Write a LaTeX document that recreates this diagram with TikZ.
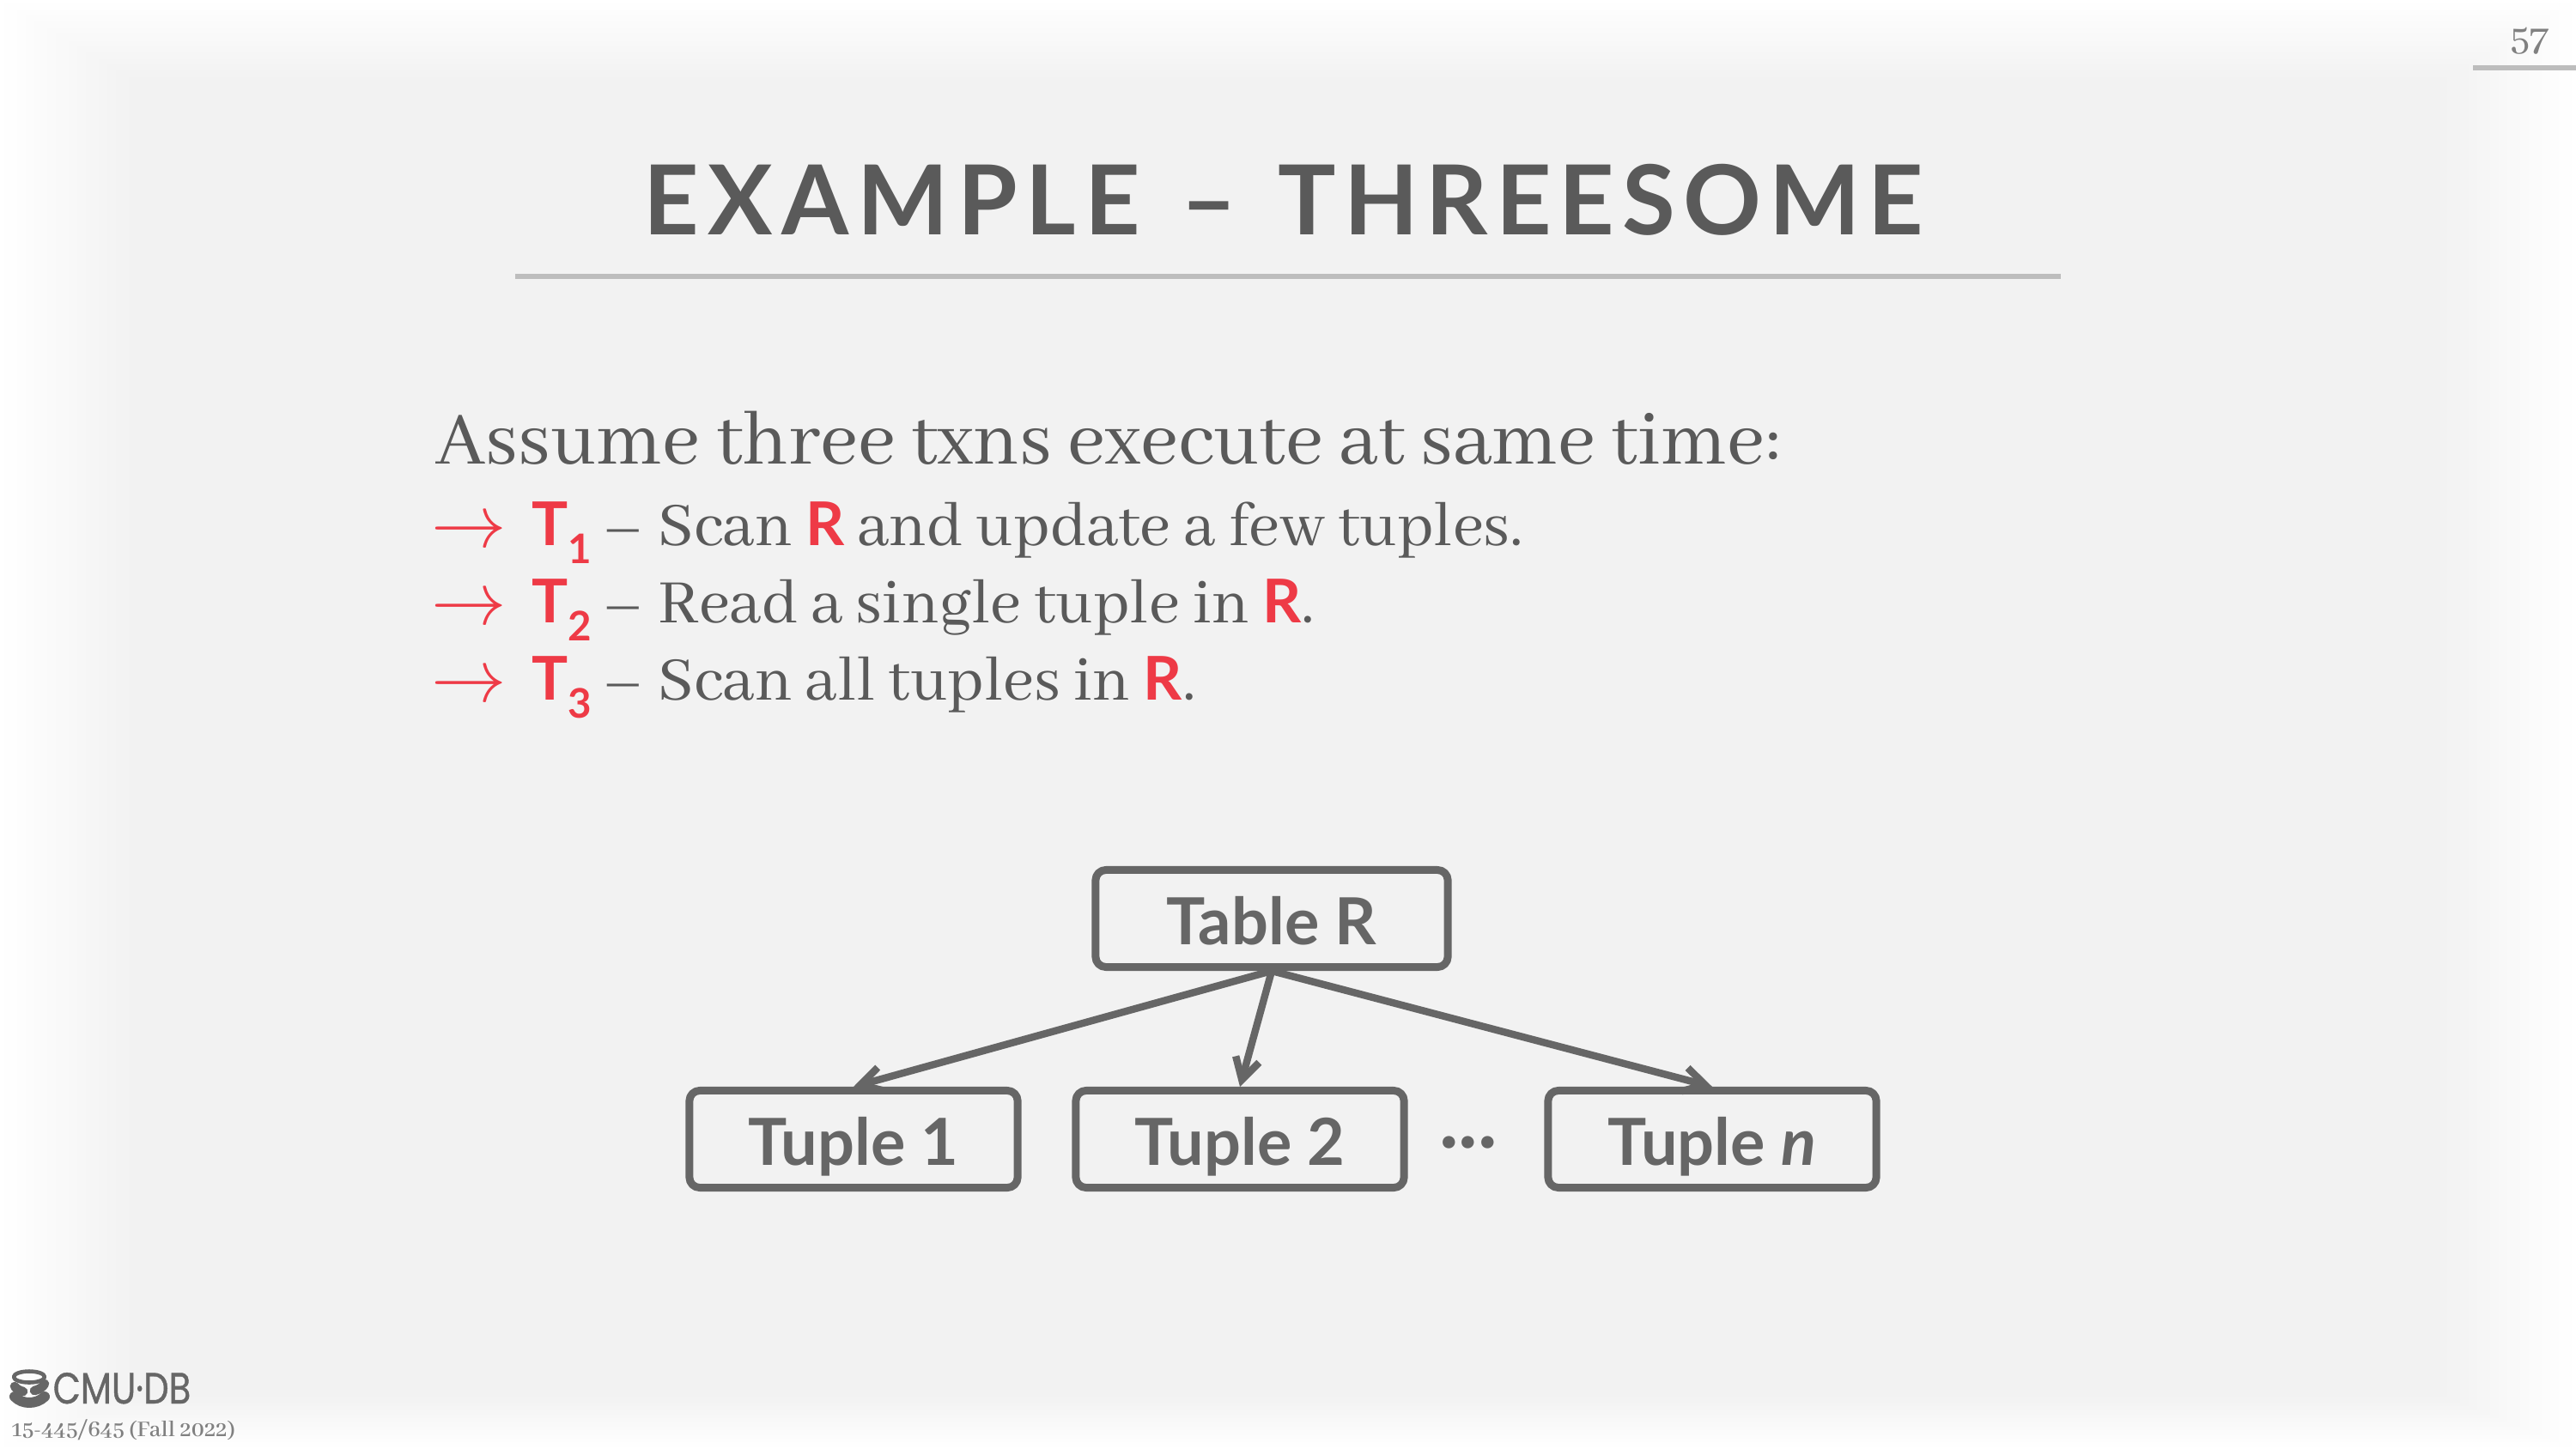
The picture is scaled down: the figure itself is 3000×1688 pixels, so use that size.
\documentclass[tikz,border=0pt]{standalone}
\usepackage{fontspec}
\setmainfont{Abhaya Libre}
\setsansfont{Lato}
\newfontfamily\logofont[FakeStretch=.82,FakeBold=.8]{Poppins}
\usetikzlibrary{arrows.meta}
\definecolor{slidebg}{HTML}{F2F2F2}
\definecolor{bodygray}{HTML}{5A5A5A}
\definecolor{boxgray}{HTML}{666666}
\definecolor{rulegray}{HTML}{BDBDBD}
\definecolor{txnred}{HTML}{EE3A46}
\newcommand{\fsz}[1]{\fontsize{#1}{#1}\selectfont}
\newcommand{\redb}[1]{{\sffamily\bfseries\fsz{20}\color{txnred}#1}}
\newcommand{\txn}[2]{\redb{#1}\raisebox{-6pt}{\redb{\fsz{13.5}#2}}\hspace{-1.5pt}}
\tikzset{
	px/.style={x=.01cm,y=-.01cm},
	boxnode/.style={draw=boxgray,line width=2.55pt,rounded corners=3.4pt,inner sep=0pt,text=boxgray,
		font=\sffamily\bfseries\fsz{21.5},minimum height=1.13cm,text height=19.1pt,text depth=1.6pt},
	listline/.style={anchor=base west,inner sep=0pt,text=bodygray,font=\fsz{22.5}},
	listarrow/.style={anchor=base west,inner sep=0pt,text=txnred,font=\fsz{27}},
}
\begin{document}
\begin{tikzpicture}[px,>={Straight Barb[length=7pt,width=8pt]},line join=round,line cap=round]
	\useasboundingbox (0,0) rectangle (3000,1688);
	% background
	\fill[white] (0,0) rectangle (3000,1688);
	\foreach \i in {1,...,30}{
		\pgfmathsetmacro{\pc}{\i/30*100}
		\fill[slidebg!\pc!white] (5*\i,3*\i) rectangle (3000-5*\i,1688-2*\i);
	}
	% title
	\node[inner sep=0pt,anchor=base,text=bodygray,font={\fontspec{Lato}[LetterSpace=9]\bfseries\fsz{32}}] (title) at (1495,274) {EXAMPLE\hspace{2.7pt} – \hspace{3pt}{\addfontfeature{LetterSpace=8}THREESOME}};
	\coordinate (ruleL) at (600,322);
	\coordinate (ruleR) at (2400,322);
	\draw[rulegray,line width=1.7pt,line cap=butt] (ruleL) -- (ruleR);
	% page number
	\node[inner sep=0pt,anchor=base,text=black!50,font=\fsz{14}] (pagenum) at (2946,60) {57};
	\coordinate (pageL) at (2880,79);
	\coordinate (pageR) at (3000,79);
	\draw[rulegray,line width=1.7pt,line cap=butt] (pageL) -- (pageR);
	% text
	\node[anchor=base west,inner sep=0pt,text=bodygray,font=\fsz{27.5}] (head) at (507,540) {Assume three txns execute at same time:};
	\node[listarrow] (arrA) at (502,637) {$\rightarrow$};
	\node[listarrow] (arrB) at (502,727) {$\rightarrow$};
	\node[listarrow] (arrC) at (502,817) {$\rightarrow$};
	\node[listline] (lineA) at (619,635) {\txn{T}{1} – Scan \redb{R} and update a few tuples.};
	\node[listline] (lineB) at (619,725) {\txn{T}{2} – Read a single tuple in \redb{R}.};
	\node[listline] (lineC) at (619,815) {\txn{T}{3} – Scan all tuples in \redb{R}.};
	% tree
	\node[boxnode,minimum width=4.1cm] (table) at (1481,1070) {Table R};
	\node[boxnode,minimum width=3.82cm] (tupA) at (994,1327) {Tuple 1};
	\node[boxnode,minimum width=3.82cm] (tupB) at (1444,1327) {Tuple 2};
	\node[boxnode,minimum width=3.82cm] (tupN) at (1994,1327) {Tuple \textit{n}};
	\node[inner sep=0pt,text=boxgray,font=\sffamily\bfseries\fsz{27}] (dots) at (1710,1331) {...};
	\draw[->,boxgray,line width=2.4pt] (table.south) -- (tupA.north);
	\draw[->,boxgray,line width=2.4pt] (table.south) -- (tupB.north);
	\draw[->,boxgray,line width=2.4pt] (table.south) -- (tupN.north);
	% logo
	\draw[boxgray,line width=1.3pt] (34,1604) ellipse (18 and 6.5);
	\draw[boxgray,line width=3pt] (17,1615) .. controls (19,1618) and (23,1620) .. (27,1621);
	\draw[boxgray,line width=3pt] (52,1612) .. controls (50,1616) and (45,1619) .. (40,1620);
	\draw[boxgray,line width=3.4pt] (17,1627) .. controls (22,1632) and (28,1634) .. (34,1634) .. controls (40,1634) and (47,1632) .. (52,1627);
	\node[anchor=base west,inner sep=0pt,text=boxgray,font=\logofont\fsz{14.5}] (logo) at (61,1635) {CMU·DB};
	\node[anchor=base west,inner sep=0pt,text=black!50,font=\bfseries\fsz{8.1}] (course) at (13,1673) {15-445/645 (Fall 2022)};
\end{tikzpicture}
\end{document}
